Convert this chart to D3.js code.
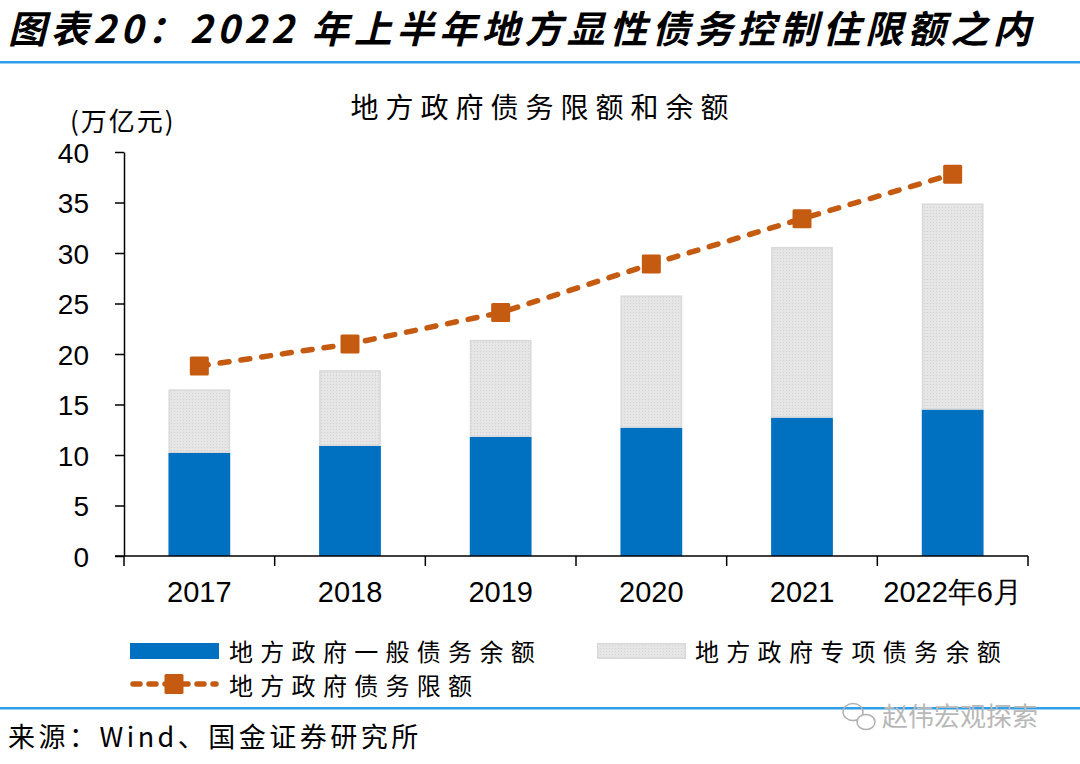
<!DOCTYPE html>
<html><head><meta charset="utf-8">
<script src="https://cdn.jsdelivr.net/npm/d3@7"></script>
<style>
body{margin:0;background:#fff;}
svg{display:block;}
</style></head>
<body><svg id="c" width="1080" height="764"></svg>
<script>
const categories = ["2017","2018","2019","2020","2021","2022年6月"];
const generalDebt = [10.2, 10.9, 11.8, 12.7, 13.7, 14.5];
const specialDebt = [6.3, 7.5, 9.6, 13.1, 16.9, 20.4];
const debtLimit = [18.8, 21.0, 24.1, 28.9, 33.4, 37.8];
const yTicks = [0,5,10,15,20,25,30,35,40];
const titleText = "图表20：2022 年上半年地方显性债务控制住限额之内";
const chartTitle = "地方政府债务限额和余额";
const unitLabel = "(万亿元)";
const legendNames = ["地方政府一般债务余额","地方政府专项债务余额","地方政府债务限额"];
const sourceText = "来源：Wind、国金证券研究所";
const watermark = "赵伟宏观探索";

const CJK = "'Noto Sans CJK SC','Noto Sans',sans-serif";
const NUM = "'Liberation Sans',Arial,sans-serif";
const BLUE = "#0070c0", ORANGE = "#c55a11";

const svg = d3.select("#c");
const defs = svg.append("defs");
const pat = defs.append("pattern").attr("id","dots").attr("width",3).attr("height",3).attr("patternUnits","userSpaceOnUse");
pat.append("rect").attr("width",3).attr("height",3).attr("fill","#e6e6e6");
pat.append("rect").attr("width",1).attr("height",1).attr("fill","#d2d2d2");

// header
svg.append("text").attr("x",8).attr("y",43).text(titleText)
  .attr("font-family",CJK).attr("font-weight",700).attr("font-style","italic")
  .attr("font-size",38).attr("letter-spacing",4.6).attr("fill","#000");
svg.append("rect").attr("x",0).attr("y",61).attr("width",1080).attr("height",2.5).attr("fill","#2e9ee8");
svg.append("rect").attr("x",0).attr("y",707).attr("width",1080).attr("height",2.5).attr("fill","#2e9ee8");

// chart title
svg.append("text").attr("x",543).attr("y",118).attr("text-anchor","middle").text(chartTitle)
  .attr("font-family",CJK).attr("font-size",28).attr("letter-spacing",7).attr("fill","#000");
svg.append("text").attr("x",70).attr("y",131).text(unitLabel)
  .attr("font-family",CJK).attr("font-size",26).attr("letter-spacing",2).attr("fill","#000");

const x = d3.scaleBand().domain(categories).range([124,1028]).paddingInner(0.59).paddingOuter(0.295);
const y = d3.scaleLinear().domain([0,40]).range([556,152]);
const step = x.step();

// bars
const g = svg.append("g");
g.selectAll(".gen").data(categories).join("rect")
  .attr("x",d=>x(d)).attr("width",x.bandwidth())
  .attr("y",(d,i)=>y(generalDebt[i])).attr("height",(d,i)=>y(0)-y(generalDebt[i]))
  .attr("fill",BLUE);
g.selectAll(".spe").data(categories).join("rect")
  .attr("x",d=>x(d)+0.75).attr("width",x.bandwidth()-1.5)
  .attr("y",(d,i)=>y(generalDebt[i]+specialDebt[i])+0.75)
  .attr("height",(d,i)=>y(generalDebt[i])-y(generalDebt[i]+specialDebt[i])-1.5)
  .attr("fill","url(#dots)").attr("stroke","#d9d9d9").attr("stroke-width",1.5);

// y axis
const ya = svg.append("g").attr("transform","translate(124,0)")
  .call(d3.axisLeft(y).tickValues(yTicks).tickSize(9).tickSizeOuter(0).tickPadding(26));
ya.select(".domain").attr("stroke","#000").attr("stroke-width",1.5);
ya.selectAll(".tick line").attr("stroke","#000").attr("stroke-width",1.5);
ya.selectAll("text").attr("font-family",NUM).attr("font-size",28).attr("fill","#000").attr("dy","0.36em");

// x axis
const xa = svg.append("g").attr("transform","translate(0,556)")
  .call(d3.axisBottom(x).tickSize(0).tickSizeOuter(0).tickPadding(25));
xa.select(".domain").remove();
xa.selectAll("text").attr("font-family",NUM).attr("font-size",29).attr("fill","#000");
svg.append("line").attr("x1",115).attr("x2",1028).attr("y1",556).attr("y2",556).attr("stroke","#000").attr("stroke-width",1.5);
const bounds = categories.map(d=>x(d)-step*0.295).concat([x(categories[categories.length-1])+x.bandwidth()+step*0.295]);
svg.selectAll(".xt").data(bounds).join("line")
  .attr("x1",d=>d).attr("x2",d=>d).attr("y1",556).attr("y2",566).attr("stroke","#000").attr("stroke-width",1.5);

// limit line
const cx = d=>x(d)+x.bandwidth()/2;
const line = d3.line().x((d,i)=>cx(categories[i])).y(d=>y(d));
svg.append("path").datum(debtLimit).attr("d",line).attr("fill","none")
  .attr("stroke",ORANGE).attr("stroke-width",5.5).attr("stroke-dasharray","9,12").attr("stroke-linecap","round");
svg.selectAll(".mk").data(debtLimit).join("rect")
  .attr("x",(d,i)=>cx(categories[i])-9.5).attr("y",d=>y(d)-9.5).attr("width",19).attr("height",19)
  .attr("rx",1.5).attr("fill",ORANGE);

// legend
const lg = svg.append("g");
lg.append("rect").attr("x",130).attr("y",643).attr("width",89).attr("height",16).attr("fill",BLUE);
lg.append("text").attr("x",229).attr("y",661).text(legendNames[0]).attr("font-family",CJK).attr("font-size",24).attr("letter-spacing",7.3).attr("fill","#000");
lg.append("rect").attr("x",597.75).attr("y",643.75).attr("width",87.5).attr("height",14.5).attr("fill","url(#dots)").attr("stroke","#d9d9d9").attr("stroke-width",1.5);
lg.append("text").attr("x",695).attr("y",661).text(legendNames[1]).attr("font-family",CJK).attr("font-size",24).attr("letter-spacing",7.3).attr("fill","#000");
lg.append("line").attr("x1",133).attr("x2",216).attr("y1",684).attr("y2",684)
  .attr("stroke",ORANGE).attr("stroke-width",5.5).attr("stroke-dasharray","7,9").attr("stroke-linecap","round");
lg.append("rect").attr("x",164.5).attr("y",674).attr("width",19).attr("height",20).attr("rx",1.5).attr("fill",ORANGE);
lg.append("text").attr("x",229).attr("y",695).text(legendNames[2]).attr("font-family",CJK).attr("font-size",24).attr("letter-spacing",7.3).attr("fill","#000");

// source
svg.append("text").attr("x",8).attr("y",747).text(sourceText)
  .attr("font-family",CJK).attr("font-size",27).attr("letter-spacing",3.5).attr("fill","#000");

// watermark
const wm = svg.append("g").attr("fill","none").attr("stroke","#b0b0b0").attr("stroke-width",1.5);
wm.append("ellipse").attr("cx",853).attr("cy",712).attr("rx",10).attr("ry",8.5);
wm.append("ellipse").attr("cx",866).attr("cy",722).attr("rx",9).attr("ry",7.5).attr("fill","#fff");
svg.append("text").attr("x",882).attr("y",726).text(watermark)
  .attr("font-family",CJK).attr("font-size",26).attr("fill","#b8b8b8");
</script></body></html>
